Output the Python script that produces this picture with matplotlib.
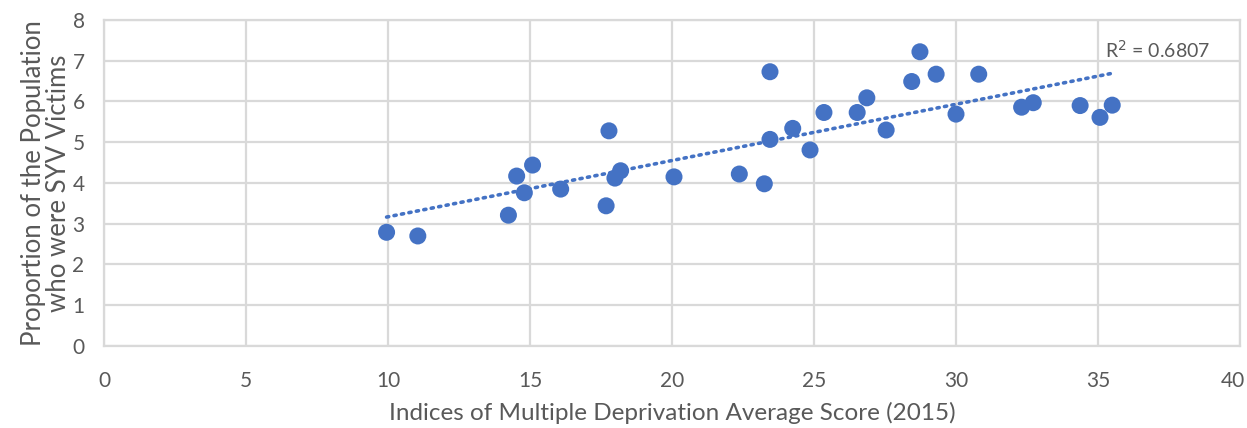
import numpy as np
import matplotlib.pyplot as plt
import matplotlib.transforms as mtransforms

# deprivation score (x) vs proportion of SYV victims (y)
imd_score = [9.95, 11.05, 14.24, 14.53, 14.80, 15.09, 16.08, 17.68, 17.78, 17.99,
             18.19, 20.07, 22.37, 23.25, 23.45, 23.45, 24.25, 24.86, 25.35, 26.52,
             26.86, 27.54, 28.44, 28.73, 29.30, 30.00, 30.80, 32.31, 32.72, 34.37,
             35.07, 35.50]
syv_prop = [2.79, 2.70, 3.21, 4.17, 3.76, 4.44, 3.85, 3.44, 5.28, 4.12,
            4.30, 4.15, 4.22, 3.98, 6.73, 5.07, 5.34, 4.81, 5.73, 5.73,
            6.09, 5.30, 6.49, 7.22, 6.67, 5.69, 6.67, 5.86, 5.97, 5.90,
            5.61, 5.91]
x_ticks = [0, 5, 10, 15, 20, 25, 30, 35, 40]
y_ticks = [0, 1, 2, 3, 4, 5, 6, 7, 8]
r2_label = "R$^2$ = 0.6807"

plt.rcParams['font.family'] = ['Lato', 'DejaVu Sans']
blue = '#4472C4'
grey = '#D9D9D9'
txt = '#595959'

fig = plt.figure(figsize=(12.47, 4.28), dpi=100)
ax = fig.add_axes([0.0834, 0.1916, 0.911, 0.7617])

# linear trendline
x = np.array(imd_score)
y = np.array(syv_prop)
m, c = np.polyfit(x, y, 1)
xs = np.array([x.min(), x.max()])
ax.plot(xs, m * xs + c, color=blue, lw=2.6, linestyle=(0, (0.6, 1.5)),
        dash_capstyle='round', zorder=2)

ax.scatter(x, y, s=150, color=blue, edgecolors='none', zorder=3)

ax.text(35.25, 7.26, r2_label, fontsize=14, color=txt, va='center', ha='left')

ax.set_xlim(0, 40)
ax.set_ylim(0, 8)
ax.set_xticks(x_ticks)
ax.set_yticks(y_ticks)
ax.grid(True, color=grey, lw=1.6)
ax.set_axisbelow(True)
for s in ax.spines.values():
    s.set_color(grey)
    s.set_linewidth(1.6)
ax.tick_params(length=0, labelsize=15, labelcolor=txt)
ax.tick_params(axis='x', pad=18)
ax.tick_params(axis='y', pad=14)

# keep the last x label inside the canvas
last = ax.get_xticklabels()[-1]
last.set_transform(last.get_transform() +
                   mtransforms.ScaledTranslation(-5 / 72, 0, fig.dpi_scale_trans))

ax.set_xlabel("Indices of Multiple Deprivation Average Score (2015)",
              fontsize=17.5, color=txt, labelpad=8)
ax.set_ylabel("Proportion of the Population\nwho were SYV Victims",
              fontsize=18.5, color=txt, labelpad=1, linespacing=1.0)

fig.savefig('out.png', dpi=100)
